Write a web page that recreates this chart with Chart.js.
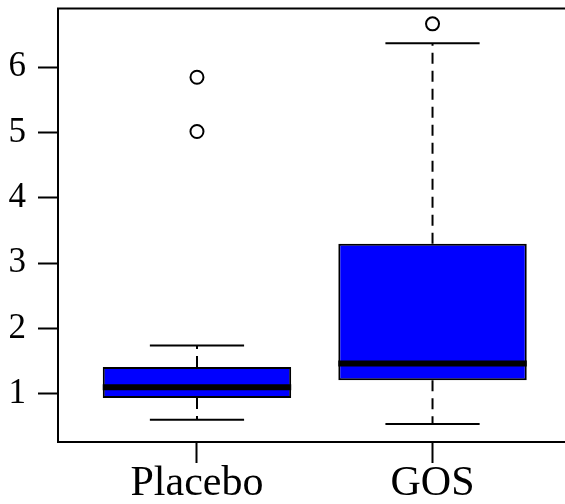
<!DOCTYPE html>
<html><head><meta charset="utf-8">
<script src="https://cdn.jsdelivr.net/npm/chart.js@4/dist/chart.umd.min.js"></script>
<style>html,body{margin:0;padding:0;overflow:hidden;background:#fff}</style>
</head><body>
<canvas id="c" width="580" height="504"></canvas>
<script>
// ---- data ----
const categories   = ['Placebo', 'GOS'];
const lowerWhisker = [0.60, 0.535];
const q1           = [0.933, 1.204];
const median       = [1.10, 1.464];
const q3           = [1.407, 3.296];
const upperWhisker = [1.739, 6.367];
const outliers     = [[5.016, 5.847], [6.665]];
const yTickValues  = [1, 2, 3, 4, 5, 6];

// ---- styling constants ----
const BOX_HALF = 0.4, CAP_HALF = 0.2;
const SERIF = '"Liberation Serif", "Times New Roman", serif';

const datasets = [];
// boxes (floating bars q1..q3)
datasets.push({
  type: 'bar',
  data: categories.map((c, i) => ({ x: i + 1, y: [q1[i], q3[i]] })),
  backgroundColor: '#0000ff', borderColor: '#000', borderWidth: 2, borderSkipped: false,
  categoryPercentage: 1, barPercentage: 0.8, order: 2
});
categories.forEach((c, i) => {
  const x = i + 1;
  // whiskers (dashed)
  datasets.push({ type: 'line', data: [{ x, y: q3[i] }, { x, y: upperWhisker[i] }],
    borderColor: '#000', borderWidth: 2, borderDash: [11, 7], pointRadius: 0, fill: false, order: 3 });
  datasets.push({ type: 'line', data: [{ x, y: q1[i] }, { x, y: lowerWhisker[i] }],
    borderColor: '#000', borderWidth: 2, borderDash: [11, 7], pointRadius: 0, fill: false, order: 3 });
  // caps
  datasets.push({ type: 'line', data: [{ x: x - CAP_HALF, y: upperWhisker[i] }, { x: x + CAP_HALF, y: upperWhisker[i] }],
    borderColor: '#000', borderWidth: 2, pointRadius: 0, fill: false, order: 3 });
  datasets.push({ type: 'line', data: [{ x: x - CAP_HALF, y: lowerWhisker[i] }, { x: x + CAP_HALF, y: lowerWhisker[i] }],
    borderColor: '#000', borderWidth: 2, pointRadius: 0, fill: false, order: 3 });
  // median
  datasets.push({ type: 'line', data: [{ x: x - BOX_HALF, y: median[i] }, { x: x + BOX_HALF, y: median[i] }],
    borderColor: '#000', borderWidth: 6, pointRadius: 0, fill: false, order: 1 });
  // outliers
  datasets.push({ type: 'line', showLine: false, data: outliers[i].map(v => ({ x, y: v })),
    pointRadius: 6.5, pointBackgroundColor: '#fff', pointBorderColor: '#000', pointBorderWidth: 2, order: 0 });
});

const framePlugin = {
  id: 'frame',
  afterDatasetsDraw(chart) {
    const { ctx, chartArea: a } = chart;
    ctx.save();
    ctx.strokeStyle = '#000'; ctx.lineWidth = 2;
    ctx.strokeRect(a.left, a.top, a.right - a.left, a.bottom - a.top);
    ctx.restore();
  }
};

new Chart(document.getElementById('c'), {
  type: 'bar',
  data: { datasets },
  options: {
    responsive: false, animation: false, devicePixelRatio: 1,
    layout: { padding: { top: 8, right: 8, left: 0, bottom: 0 } },
    plugins: { legend: { display: false }, tooltip: { enabled: false } },
    scales: {
      x: {
        type: 'linear', min: 0.41, max: 2.59, offset: false,
        afterBuildTicks: s => { s.ticks = categories.map((c, i) => ({ value: i + 1 })); },
        afterFit: s => { s.height = 62; s.paddingLeft = 0; s.paddingRight = 0; },
        grid: { offset: false, drawOnChartArea: false, drawTicks: true, tickLength: 21, tickWidth: 2, tickColor: '#000' },
        border: { display: false },
        ticks: { autoSkip: false, maxRotation: 0, padding: 0, color: '#000',
          font: { family: SERIF, size: 42, lineHeight: 1 },
          callback: v => categories[Math.round(v) - 1] }
      },
      y: {
        type: 'linear', min: 0.26, max: 6.9,
        afterBuildTicks: s => { s.ticks = yTickValues.map(v => ({ value: v })); },
        afterFit: s => { s.width = 58; s.paddingTop = 0; s.paddingBottom = 0; },
        grid: { offset: false, drawOnChartArea: false, drawTicks: true, tickLength: 20, tickWidth: 2, tickColor: '#000' },
        border: { display: false },
        ticks: { autoSkip: false, padding: 12, color: '#000',
          font: { family: SERIF, size: 35 },
          callback: v => String(v) }
      }
    }
  },
  plugins: [framePlugin]
});
</script>
</body></html>
